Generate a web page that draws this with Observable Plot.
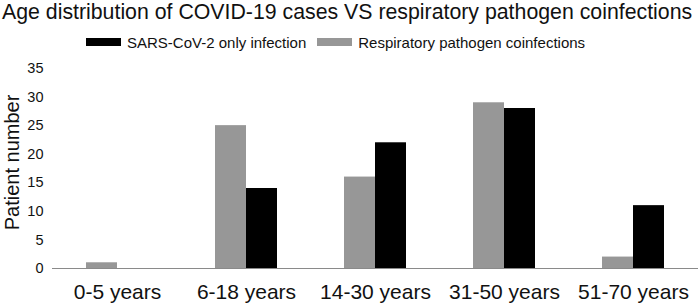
<!DOCTYPE html>
<html>
<head>
<meta charset="utf-8">
<script src="https://cdn.jsdelivr.net/npm/d3@7"></script>
<script src="https://cdn.jsdelivr.net/npm/@observablehq/plot@0.6"></script>
<style>
  html, body { margin: 0; padding: 0; background: #fff; }
  body { width: 700px; height: 306px; overflow: hidden; font-family: "Liberation Sans", Arial, sans-serif; color: #111; }
  .title { height: 30px; line-height: 24px; font-size: 21.3px; white-space: nowrap; padding-left: 2px; }
  .legend { height: 24px; display: flex; align-items: center; font-size: 15px; white-space: nowrap; padding-left: 86px; box-sizing: border-box; }
  .sw { display: inline-block; width: 35px; height: 8px; margin-right: 6px; }
  .item { display: flex; align-items: center; margin-right: 11px; }
  #chart svg { display: block; overflow: visible; }
</style>
</head>
<body>
<div class="title" id="title"></div>
<div class="legend" id="legend"></div>
<div id="chart"></div>
<script>
const titleText = "Age distribution of COVID-19 cases VS respiratory pathogen coinfections";
const categories = ["0-5 years", "6-18 years", "14-30 years", "31-50 years", "51-70 years"];
const seriesNames = ["SARS-CoV-2 only infection", "Respiratory pathogen coinfections"];
const seriesColors = ["#000000", "#979797"];
const onlyInfection = [0, 14, 22, 28, 11];
const coinfection = [1, 25, 16, 29, 2];
const yTicks = [0, 5, 10, 15, 20, 25, 30, 35];
const yLabel = "Patient number";

document.getElementById("title").textContent = titleText;
const legend = document.getElementById("legend");
seriesNames.forEach((name, i) => {
  const item = document.createElement("span");
  item.className = "item";
  const sw = document.createElement("span");
  sw.className = "sw";
  sw.style.background = seriesColors[i];
  const t = document.createElement("span");
  t.textContent = name;
  item.appendChild(sw);
  item.appendChild(t);
  legend.appendChild(item);
});

const coData = categories.map((c, i) => ({category: c, value: coinfection[i]}));
const onlyData = categories.map((c, i) => ({category: c, value: onlyInfection[i]}));

const chart = Plot.plot({
  width: 700,
  height: 252,
  marginTop: 14,
  marginBottom: 38,
  marginLeft: 52,
  marginRight: 2,
  style: {fontFamily: "'Liberation Sans', Arial, sans-serif", color: "#111", background: "#fff", overflow: "visible"},
  x: {domain: categories, paddingInner: 0.52, paddingOuter: 0.26, label: null},
  y: {domain: [0, 35], label: null},
  marks: [
    Plot.barY(coData, {x: "category", y: "value", fill: seriesColors[1], insetRight: 31}),
    Plot.barY(onlyData, {x: "category", y: "value", fill: seriesColors[0], insetLeft: 31}),
    Plot.ruleY([0], {stroke: "#8a8a8a", strokeWidth: 1}),
    Plot.axisY({ticks: yTicks, tickSize: 0, tickPadding: 9, fontSize: 14.5, label: null}),
    Plot.axisX({tickSize: 0, tickPadding: 16, fontSize: 21, label: null}),
    Plot.text([yLabel], {frameAnchor: "left", rotate: -90, dx: -40, dy: -6, fontSize: 20, textAnchor: "middle", lineAnchor: "middle", fill: "#111"})
  ]
});
document.getElementById("chart").appendChild(chart);
</script>
</body>
</html>
